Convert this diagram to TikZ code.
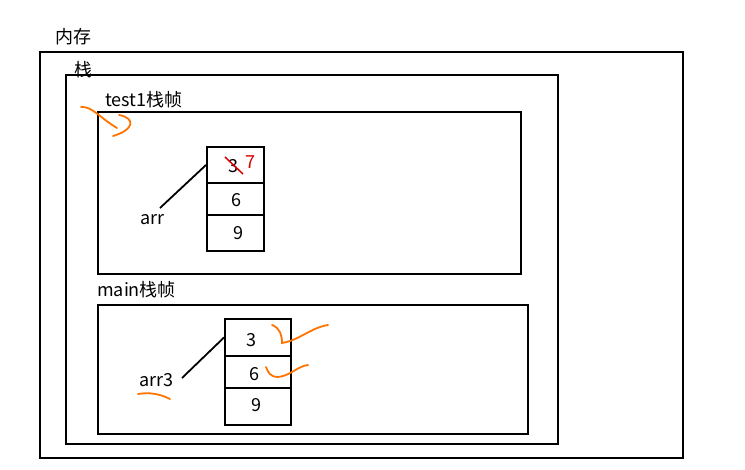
\documentclass[tikz,border=0pt]{standalone}
\usepackage{fontspec}
\setmainfont{Noto Sans CJK SC}
\begin{document}
\begin{tikzpicture}[x=1pt,y=-1pt,
  box/.style={draw=black,line width=2pt},
  lbl/.style={font=\fontsize{18}{20}\selectfont,inner sep=0pt,anchor=base west},
  num/.style={font=\fontsize{18}{20}\selectfont,inner sep=0pt},
  ptr/.style={draw=black,line width=1.8pt},
  scrib/.style={draw=orange!90!red,line width=1.8pt,line cap=round}]
\useasboundingbox (0,0) rectangle (745,469);
% frames
\node[box,minimum width=643pt,minimum height=406pt,anchor=north west,inner sep=0pt] (mem) at (39,51) {};
\node[lbl] (memL) at (55,43) {内存};
\node[box,minimum width=492pt,minimum height=369pt,anchor=north west,inner sep=0pt] (stack) at (65,74) {};
\node[lbl] (stackL) at (74,76) {栈};
\node[box,minimum width=423pt,minimum height=162pt,anchor=north west,inner sep=0pt] (t1) at (97,111) {};
\node[lbl] (t1L) at (105,106) {test1栈帧};
\node[box,minimum width=430pt,minimum height=129pt,anchor=north west,inner sep=0pt] (mf) at (97,304) {};
\node[lbl] (mfL) at (97,296) {main栈帧};
% array 1
\node[box,minimum width=57pt,minimum height=36pt,anchor=north west,inner sep=0pt] (a1) at (206,146) {};
\node[box,minimum width=57pt,minimum height=32pt,anchor=north west,inner sep=0pt] (a2) at (206,182) {};
\node[box,minimum width=57pt,minimum height=36pt,anchor=north west,inner sep=0pt] (a3) at (206,214) {};
\node[num] (v1) at (233,166) {3};
\node[num,text=red!85!black] (v1b) at (250,162) {7};
\node[num] (v2) at (236,200) {6};
\node[num] (v3) at (238,233) {9};
\coordinate (c1a) at (225,157);
\coordinate (c1b) at (243,174);
\draw[red!85!black,line width=1.5pt] (c1a) -- (c1b);
\node[lbl] (arr) at (140,224) {arr};
\coordinate (arrE) at (160,208);
\draw[ptr] (arrE) -- (a1.west);
% array 2
\node[box,minimum width=66pt,minimum height=37pt,anchor=north west,inner sep=0pt] (b1) at (224,318) {};
\node[box,minimum width=66pt,minimum height=32pt,anchor=north west,inner sep=0pt] (b2) at (224,355) {};
\node[box,minimum width=66pt,minimum height=37pt,anchor=north west,inner sep=0pt] (b3) at (224,387) {};
\node[num] (w1) at (251,340) {3};
\node[num] (w2) at (254,374) {6};
\node[num] (w3) at (256,405) {9};
\node[lbl] (arr3) at (139,386) {arr3};
\coordinate (arr3E) at (182,378);
\draw[ptr] (arr3E) -- (b1.west);
% orange scribbles
\draw[scrib] (81,107) .. controls (92,106) and (100,118) .. (117,128);
\draw[scrib] (119,115) .. controls (136,118) and (134,130) .. (113,136);
\draw[scrib] (138,394) .. controls (150,392) and (160,394) .. (170,399);
\draw[scrib] (272,325) .. controls (280,328) and (282,335) .. (282,343) .. controls (300,340) and (310,328) .. (328,325);
\draw[scrib] (266,367) .. controls (268,372) and (270,377) .. (278,377) .. controls (290,376) and (298,366) .. (308,365);
\end{tikzpicture}
\end{document}
